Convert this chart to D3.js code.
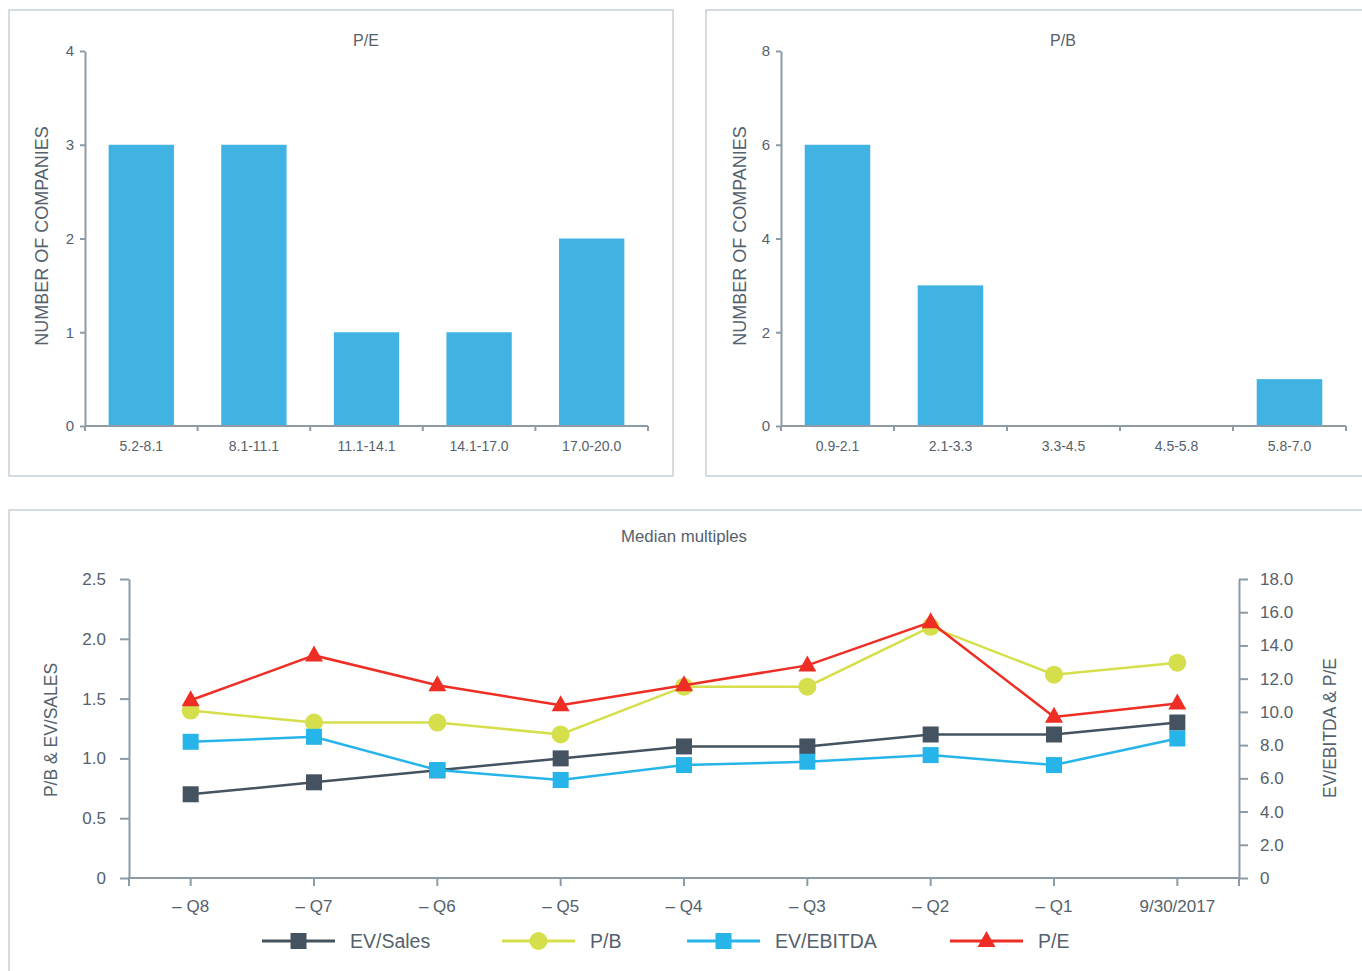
<!DOCTYPE html>
<html>
<head>
<meta charset="utf-8">
<script src="https://cdn.jsdelivr.net/npm/d3@7"></script>
<style>
  html, body { margin: 0; padding: 0; background: #fff; }
  svg { display: block; font-family: "Liberation Sans", Arial, Helvetica, sans-serif; }
  text { fill: #55616c; }
</style>
</head>
<body>
<svg id="chart" width="1362" height="971"></svg>
<script>
// ---------- DATA ----------
const peBins = ["5.2-8.1", "8.1-11.1", "11.1-14.1", "14.1-17.0", "17.0-20.0"];
const peCounts = [3, 3, 1, 1, 2];
const peTicks = [0, 1, 2, 3, 4];

const pbBins = ["0.9-2.1", "2.1-3.3", "3.3-4.5", "4.5-5.8", "5.8-7.0"];
const pbCounts = [6, 3, 0, 0, 1];
const pbTicks = [0, 2, 4, 6, 8];

const quarters = ["– Q8", "– Q7", "– Q6", "– Q5", "– Q4", "– Q3", "– Q2", "– Q1", "9/30/2017"];
const evSales = [0.7, 0.8, 0.9, 1.0, 1.1, 1.1, 1.2, 1.2, 1.3];
const pb = [1.4, 1.3, 1.3, 1.2, 1.6, 1.6, 2.1, 1.7, 1.8];
const evEbitda = [8.2, 8.5, 6.5, 5.9, 6.8, 7.0, 7.4, 6.8, 8.4];
const pe = [10.7, 13.4, 11.6, 10.4, 11.6, 12.8, 15.4, 9.7, 10.5];
const leftTicks = [0, 0.5, 1.0, 1.5, 2.0, 2.5];
const rightTicks = [0, 2, 4, 6, 8, 10, 12, 14, 16, 18];

// ---------- STYLE ----------
const axisColor = "#8c9ba5";
const textColor = "#55616c";
const borderColor = "#c8d1d8";
const barColor = "#41b3e3";
const colEvSales = "#44535f";
const colPB = "#d5df4b";
const colEvEbitda = "#27b5e9";
const colPE = "#ee2e24";

const svg = d3.select("#chart");

function panel(x, y, w, h) {
  svg.append("rect").attr("x", x).attr("y", y).attr("width", w).attr("height", h)
    .attr("fill", "none").attr("stroke", borderColor).attr("stroke-width", 1.5);
}

function styleAxis(g) {
  g.selectAll("path.domain").attr("stroke", axisColor).attr("stroke-width", 2);
  g.selectAll(".tick line").attr("stroke", axisColor).attr("stroke-width", 2);
  g.selectAll(".tick text").attr("fill", textColor).style("font-family", "'Liberation Sans', Arial, sans-serif");
}

// ---------- HISTOGRAMS ----------
function histogram(opts) {
  const { x0, x1, y0, y1, cats, vals, ticks, title, titleX, labelX } = opts;
  const x = d3.scaleBand().domain(cats).range([x0, x1]).paddingInner(0.42).paddingOuter(0.21);
  const y = d3.scaleLinear().domain([0, ticks[ticks.length - 1]]).range([y0, y1]);

  svg.append("g").selectAll("rect").data(vals).join("rect")
    .attr("x", (d, i) => x(cats[i]))
    .attr("y", d => y(d))
    .attr("width", x.bandwidth())
    .attr("height", d => y(0) - y(d))
    .attr("fill", barColor);

  const ya = svg.append("g").attr("transform", `translate(${x0},0)`)
    .call(d3.axisLeft(y).tickValues(ticks).tickFormat(d3.format("d")).tickSize(5).tickSizeOuter(0).tickPadding(6));
  styleAxis(ya);
  ya.selectAll(".tick text").attr("font-size", 15);

  const step = x.step();
  const bounds = d3.range(cats.length + 1).map(i => x0 + i * step);
  const xa = svg.append("g");
  xa.append("line").attr("x1", x0).attr("x2", x1).attr("y1", y0).attr("y2", y0)
    .attr("stroke", axisColor).attr("stroke-width", 2);
  xa.selectAll("line.b").data(bounds).join("line").attr("class", "b")
    .attr("x1", d => d).attr("x2", d => d).attr("y1", y0).attr("y2", y0 + 5)
    .attr("stroke", axisColor).attr("stroke-width", 2);
  xa.selectAll("text").data(cats).join("text")
    .attr("x", d => x(d) + x.bandwidth() / 2)
    .attr("y", y0 + 25)
    .attr("text-anchor", "middle")
    .attr("font-size", 14)
    .attr("fill", textColor)
    .text(d => d);

  svg.append("text").attr("x", titleX).attr("y", 46).attr("text-anchor", "middle")
    .attr("font-size", 16).text(title);

  svg.append("text")
    .attr("transform", `translate(${labelX},236) rotate(-90)`)
    .attr("text-anchor", "middle").attr("font-size", 18)
    .text("NUMBER OF COMPANIES");
}

panel(9, 10, 664, 466);
panel(706, 10, 670, 466);
panel(9, 510, 1366, 480);

histogram({ x0: 85, x1: 648, y0: 426, y1: 51, cats: peBins, vals: peCounts, ticks: peTicks,
  title: "P/E", titleX: 366, labelX: 48 });
histogram({ x0: 781, x1: 1346, y0: 426, y1: 51, cats: pbBins, vals: pbCounts, ticks: pbTicks,
  title: "P/B", titleX: 1063, labelX: 746 });

// ---------- MEDIAN MULTIPLES ----------
const bx0 = 129, bx1 = 1239, by0 = 878, by1 = 579;
const xq = d3.scaleBand().domain(quarters).range([bx0, bx1]);
const xc = d => xq(d) + xq.bandwidth() / 2;
const yl = d3.scaleLinear().domain([0, 2.5]).range([by0, by1]);
const yr = d3.scaleLinear().domain([0, 18]).range([by0, by1]);

svg.append("text").attr("x", 684).attr("y", 542).attr("text-anchor", "middle")
  .attr("font-size", 16.8).text("Median multiples");

const la = svg.append("g").attr("transform", `translate(${bx0},0)`)
  .call(d3.axisLeft(yl).tickValues(leftTicks)
    .tickFormat(d => d === 0 ? "0" : d3.format(".1f")(d)).tickSize(9).tickSizeOuter(0).tickPadding(14));
styleAxis(la);
la.selectAll(".tick text").attr("font-size", 17);

const ra = svg.append("g").attr("transform", `translate(${bx1},0)`)
  .call(d3.axisRight(yr).tickValues(rightTicks)
    .tickFormat(d => d === 0 ? "0" : d3.format(".1f")(d)).tickSize(9).tickSizeOuter(0).tickPadding(12));
styleAxis(ra);
ra.selectAll(".tick text").attr("font-size", 17);

const xa = svg.append("g").attr("transform", `translate(0,${by0})`)
  .call(d3.axisBottom(xq).tickSize(8).tickSizeOuter(8).tickPadding(14));
styleAxis(xa);
xa.selectAll(".tick text").attr("font-size", 17);
xa.select("path.domain").attr("d", `M${bx0},8V0H${bx1}V8`);

svg.append("text")
  .attr("transform", `translate(57,730) rotate(-90)`)
  .attr("text-anchor", "middle").attr("font-size", 17.5).text("P/B & EV/SALES");
svg.append("text")
  .attr("transform", `translate(1336,728) rotate(-90)`)
  .attr("text-anchor", "middle").attr("font-size", 17.5).text("EV/EBITDA & P/E");

const series = [
  { name: "EV/Sales", vals: evSales, y: yl, color: colEvSales, shape: "square" },
  { name: "P/B", vals: pb, y: yl, color: colPB, shape: "circle" },
  { name: "EV/EBITDA", vals: evEbitda, y: yr, color: colEvEbitda, shape: "square" },
  { name: "P/E", vals: pe, y: yr, color: colPE, shape: "triangle" }
];

function marker(g, shape, color, cx, cy) {
  if (shape === "square") {
    g.append("rect").attr("x", cx - 8).attr("y", cy - 8).attr("width", 16).attr("height", 16).attr("fill", color);
  } else if (shape === "circle") {
    g.append("circle").attr("cx", cx).attr("cy", cy).attr("r", 9).attr("fill", color);
  } else {
    g.append("path").attr("d", `M${cx},${cy - 10}L${cx + 9},${cy + 6}L${cx - 9},${cy + 6}Z`).attr("fill", color);
  }
}

series.forEach(s => {
  const g = svg.append("g");
  const line = d3.line().x((d, i) => xc(quarters[i])).y(d => s.y(d));
  g.append("path").attr("d", line(s.vals)).attr("fill", "none")
    .attr("stroke", s.color).attr("stroke-width", 2.5);
  s.vals.forEach((v, i) => marker(g, s.shape, s.color, xc(quarters[i]), s.y(v)));
});

const legendX = [262, 502, 687, 950];
series.forEach((s, i) => {
  const g = svg.append("g");
  const lx = legendX[i], ly = 941;
  g.append("line").attr("x1", lx).attr("x2", lx + 73).attr("y1", ly).attr("y2", ly)
    .attr("stroke", s.color).attr("stroke-width", 3);
  marker(g, s.shape, s.color, lx + 36.5, ly);
  g.append("text").attr("x", lx + 88).attr("y", ly + 7).attr("font-size", 19.5).text(s.name);
});
</script>
</body>
</html>
